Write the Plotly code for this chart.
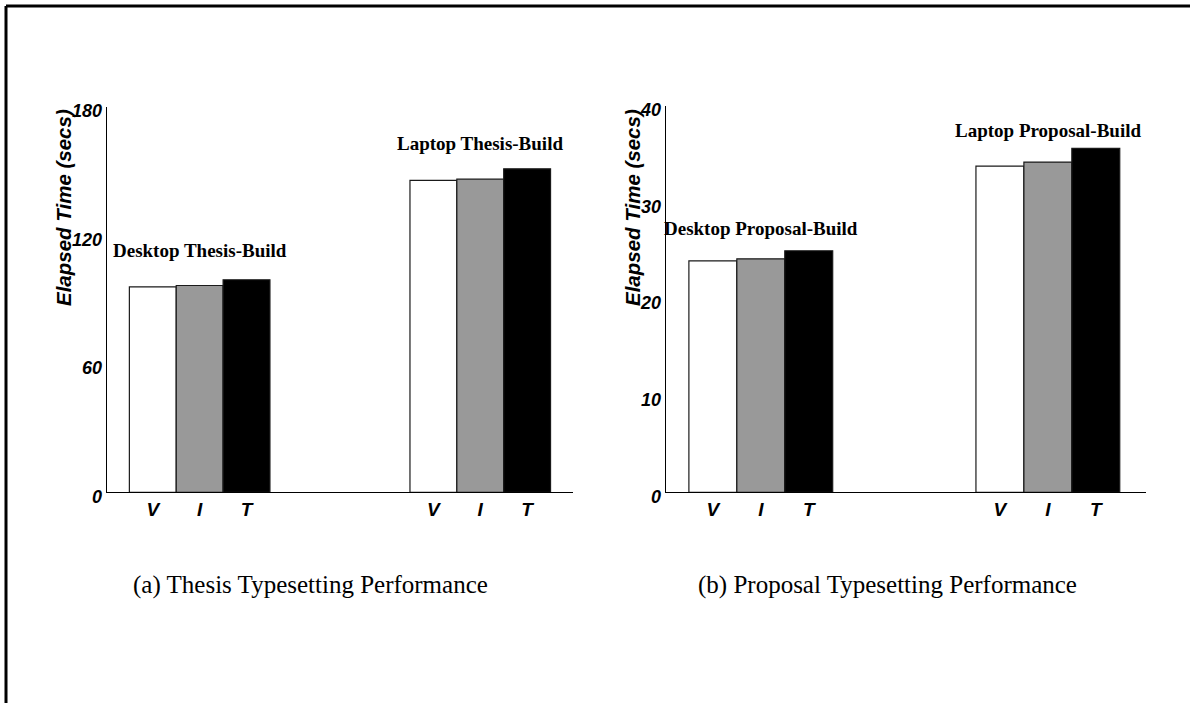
import plotly.graph_objects as go

W, H = 1190, 703

# ---- data ----
series = ["V", "I", "T"]
series_colors = ["#ffffff", "#999999", "#000000"]

thesis_groups = ["Desktop Thesis-Build", "Laptop Thesis-Build"]
thesis_V = [96.0, 145.7]
thesis_I = [96.6, 146.3]
thesis_T = [99.3, 151.1]

proposal_groups = ["Desktop Proposal-Build", "Laptop Proposal-Build"]
proposal_V = [23.97, 33.78]
proposal_I = [24.18, 34.19]
proposal_T = [25.01, 35.61]

thesis_ticks = [0, 60, 120, 180]
proposal_ticks = [0, 10, 20, 30, 40]

captions = ["(a) Thesis Typesetting Performance", "(b) Proposal Typesetting Performance"]
y_title = "Elapsed Time (secs)"

# ---- style ----
BAR_W = 0.167
SANS = "Liberation Sans, Arial, Helvetica, sans-serif"
SERIF = "Liberation Serif, Times New Roman, serif"


def px_x(p):
    return p / W


def px_y(p):
    return 1 - p / H


fig = go.Figure()

panels = [
    dict(xa="x", ya="y", groups=thesis_groups, vals=[thesis_V, thesis_I, thesis_T],
         ticks=thesis_ticks, ymax=180, xdom=(106.7, 573), ydom=(492.3, 107),
         xrange=(-0.3313, 1.3305), label_y=[250, 143.3], title_x=63),
    dict(xa="x2", ya="y2", groups=proposal_groups, vals=[proposal_V, proposal_I, proposal_T],
         ticks=proposal_ticks, ymax=40, xdom=(665.7, 1145.6), ydom=(492.3, 106),
         xrange=(-0.3313, 1.3405), label_y=[228.3, 130], title_x=632),
]

for i, p in enumerate(panels):
    n = len(p["groups"])
    tickvals, ticktext = [], []
    for j, (s, col, v) in enumerate(zip(series, series_colors, p["vals"])):
        off = (j - 1) * BAR_W
        xs = [g + off for g in range(n)]
        tickvals += xs
        ticktext += [s] * n
        fig.add_trace(go.Bar(
            x=xs, y=v, width=BAR_W, name=s, showlegend=False,
            marker=dict(color=col, line=dict(color="#1a1a1a", width=1.2)),
            xaxis=p["xa"], yaxis=p["ya"],
        ))
    suffix = "" if i == 0 else "2"
    fig.update_layout(**{
        "xaxis" + suffix: dict(
            domain=[px_x(p["xdom"][0]), px_x(p["xdom"][1])],
            range=list(p["xrange"]), anchor="y" + suffix,
            tickvals=tickvals, ticktext=ticktext, ticks="", automargin=False,
            showgrid=False, zeroline=False, showline=True, linecolor="black", linewidth=1.3,
            tickfont=dict(family=SANS, size=19, color="black", style="italic", weight="bold"),
        ),
        "yaxis" + suffix: dict(
            domain=[px_y(p["ydom"][0]), px_y(p["ydom"][1])],
            range=[0, p["ymax"]], anchor="x" + suffix,
            tickvals=p["ticks"], ticks="", ticklabelshift=4, ticklabelstandoff=0, automargin=False,
            showgrid=False, zeroline=False, showline=True, linecolor="black", linewidth=1.3,
            tickfont=dict(family=SANS, size=18, color="black", style="italic", weight="bold"),
        ),
    })
    # group labels
    for g, (name, ly) in enumerate(zip(p["groups"], p["label_y"])):
        fig.add_annotation(
            x=g, y=px_y(ly), xref=p["xa"], yref="paper", text="<b>%s</b>" % name,
            showarrow=False, xanchor="center", yanchor="middle",
            font=dict(family=SERIF, size=19, color="black"),
        )
    # axis title (rotated)
    fig.add_annotation(
        x=px_x(p["title_x"]), y=px_y(208), xref="paper", yref="paper",
        text="<b><i>%s</i></b>" % y_title, textangle=-90, showarrow=False,
        xanchor="center", yanchor="middle",
        font=dict(family=SANS, size=20.5, color="black"),
    )

caption_x = [310, 887]
for cx, cap in zip(caption_x, captions):
    fig.add_annotation(
        x=px_x(cx), y=px_y(585), xref="paper", yref="paper", text=cap,
        showarrow=False, xanchor="center", yanchor="middle",
        font=dict(family=SERIF, size=25, color="black"),
    )

# page frame (top and left edges)
fig.add_shape(type="line", xref="paper", yref="paper",
              x0=px_x(6), y0=px_y(6), x1=1, y1=px_y(6), line=dict(color="black", width=3))
fig.add_shape(type="line", xref="paper", yref="paper",
              x0=px_x(6), y0=px_y(6), x1=px_x(6), y1=0, line=dict(color="black", width=3))

fig.update_layout(
    width=W, height=H, margin=dict(l=0, r=0, t=0, b=0, pad=0, autoexpand=False),
    paper_bgcolor="white", plot_bgcolor="white", barmode="overlay",
    showlegend=False,
)

fig.write_html(
    "out.html",
    config={"displayModeBar": False},
    post_script=(
        "document.documentElement.style.margin='0';"
        "document.documentElement.style.overflow='hidden';"
        "document.body.style.margin='0';document.body.style.overflow='hidden';"
    ),
)
